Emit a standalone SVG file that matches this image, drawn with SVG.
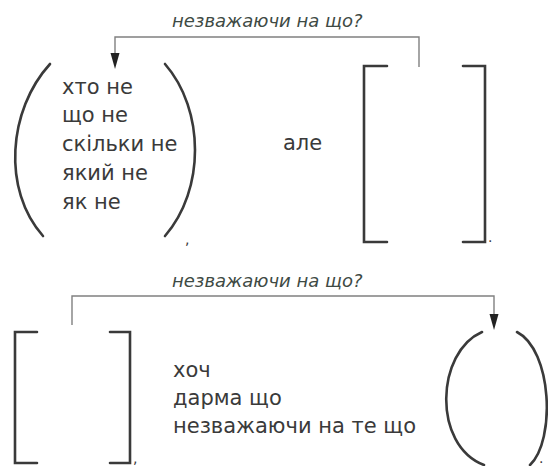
<svg xmlns="http://www.w3.org/2000/svg" width="548" height="466" viewBox="0 0 548 466">
<style>
.t{font-family:"DejaVu Sans",sans-serif;font-size:21px;fill:#3a3a3a}
.lbl{font-family:"DejaVu Sans",sans-serif;font-style:italic;font-size:18px;fill:#3e4a44}
.br{fill:none;stroke:#3a3a3a;stroke-width:2.6;stroke-linecap:round;stroke-linejoin:miter}
.cn{fill:none;stroke:#808080;stroke-width:1.4}
.p{font-family:"DejaVu Sans",sans-serif;font-size:14px;fill:#3a3a3a}
.ah{fill:#222}
</style>
<g id="connectors">
<polyline class="cn" points="419,67 419,37 115,37 115,54"/>
<path class="ah" d="M110.5,53 L119.5,53 L115,69 Z"/>
<polyline class="cn" points="72,325 72,296 494,296 494,315"/>
<path class="ah" d="M489.5,314 L498.5,314 L494,330 Z"/>
<text class="lbl" x="172" y="27">незважаючи на що?</text>
<text class="lbl" x="172" y="287">незважаючи на що?</text>
</g>
<g id="node-paren-top">
<path class="br" d="M50,64 C8,110 2,190 43,236"/>
<path class="br" d="M165,64 C205,110 205,190 165,236"/>
<text class="t" x="62" y="94">хто не</text>
<text class="t" x="62" y="122">що не</text>
<text class="t" x="62" y="151">скільки не</text>
<text class="t" x="62" y="180">який не</text>
<text class="t" x="62" y="209">як не</text>
<text class="p" x="185" y="244">,</text>
</g>
<g id="node-ale">
<text class="t" x="283" y="150">але</text>
</g>
<g id="node-bracket-top">
<polyline class="br" points="387,66 364,66 364,242 387,242"/>
<polyline class="br" points="463,66 485,66 485,242 463,242"/>
<text class="p" x="488" y="242">.</text>
</g>
<g id="node-bracket-bottom">
<polyline class="br" points="37,332 15,332 15,463 37,463"/>
<polyline class="br" points="110,332 130,332 130,463 110,463"/>
<text class="p" x="133" y="463">,</text>
</g>
<g id="node-conj">
<text class="t" x="173" y="377">хоч</text>
<text class="t" x="173" y="405">дарма що</text>
<text class="t" x="173" y="433">незважаючи на те що</text>
</g>
<g id="node-paren-bottom">
<path class="br" d="M482,332 C436,352 432,445 484,465"/>
<path class="br" d="M517,332 C552,350 556,440 530,465"/>
<text class="p" x="539" y="463">.</text>
</g>
</svg>
